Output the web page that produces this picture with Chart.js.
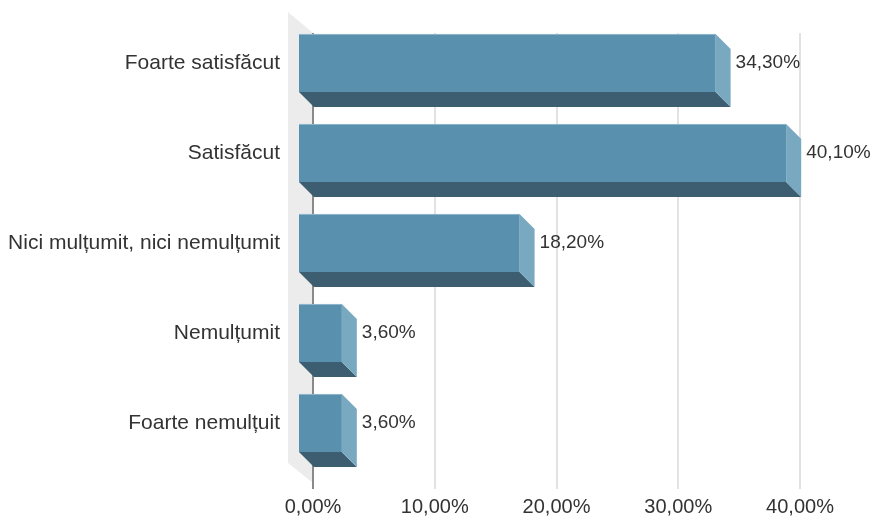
<!DOCTYPE html>
<html lang="ro">
<head>
  <meta charset="UTF-8">
  <title>Satisfacție</title>
  <style>
    body { margin: 0; background: #fff; }
  </style>
</head>
<body>
  <canvas id="myChart" width="873" height="519"></canvas>
  <script src="https://cdn.jsdelivr.net/npm/chart.js@4/dist/chart.umd.min.js"></script>
  <script>
    const categories = ['Foarte satisfăcut', 'Satisfăcut', 'Nici mulțumit, nici nemulțumit', 'Nemulțumit', 'Foarte nemulțuit'];
    const values = [34.3, 40.1, 18.2, 3.6, 3.6];
    const xTicks = [0, 10, 20, 30, 40];

    const DEPTH = 15;
    const fmt = v => v.toFixed(2).replace('.', ',') + '%';

    // draws the grey side wall and the 3d boxes from the bar elements
    const bars3d = {
      id: 'bars3d',
      beforeDatasetsDraw(chart) {
        const ctx = chart.ctx, a = chart.chartArea;
        ctx.save();
        ctx.fillStyle = '#ececec';
        ctx.beginPath();
        ctx.moveTo(a.left - 25, a.top - 21);
        ctx.lineTo(a.left, a.top);
        ctx.lineTo(a.left, a.bottom);
        ctx.lineTo(a.left - 25, a.bottom - 20);
        ctx.closePath();
        ctx.fill();
        // axis line at zero
        ctx.strokeStyle = '#8a8a8a';
        ctx.lineWidth = 2;
        ctx.beginPath();
        ctx.moveTo(a.left, a.top);
        ctx.lineTo(a.left, a.bottom + 6);
        ctx.stroke();
        ctx.restore();
      },
      afterDatasetsDraw(chart) {
        const ctx = chart.ctx;
        const meta = chart.getDatasetMeta(0);
        ctx.save();
        meta.data.forEach((bar, i) => {
          const p = bar.getProps(['x', 'y', 'base', 'height'], true);
          const x0 = p.base, x1 = p.x;
          const yt = p.y - p.height / 2, yb = p.y + p.height / 2;
          const d = DEPTH;
          // bottom face
          ctx.fillStyle = '#3d5e71';
          ctx.beginPath();
          ctx.moveTo(x0 - d, yb - d);
          ctx.lineTo(x1 - d, yb - d);
          ctx.lineTo(x1, yb);
          ctx.lineTo(x0, yb);
          ctx.closePath();
          ctx.fill();
          // side face
          ctx.fillStyle = '#79a8c1';
          ctx.beginPath();
          ctx.moveTo(x1 - d, yt - d);
          ctx.lineTo(x1, yt);
          ctx.lineTo(x1, yb);
          ctx.lineTo(x1 - d, yb - d);
          ctx.closePath();
          ctx.fill();
          // front face
          ctx.fillStyle = '#5890ae';
          ctx.fillRect(x0 - d, yt - d, x1 - x0, yb - yt);
          ctx.fillStyle = '#8db5ca';
          ctx.fillRect(x0 - d, yt - d, x1 - x0, 1);
          // value label
          ctx.fillStyle = '#333';
          ctx.font = '19px "Liberation Sans", Arial, sans-serif';
          ctx.textAlign = 'left';
          ctx.textBaseline = 'middle';
          ctx.fillText(fmt(values[i]), x1 + 5, p.y - d);
        });
        ctx.restore();
      }
    };

    Chart.defaults.font.family = '"Liberation Sans", Arial, sans-serif';
    Chart.defaults.font.size = 20;
    Chart.defaults.color = '#333';

    new Chart(document.getElementById('myChart'), {
      type: 'bar',
      data: {
        labels: categories,
        datasets: [{
          data: values,
          backgroundColor: 'rgba(0,0,0,0)',
          barPercentage: 0.645,
          categoryPercentage: 1
        }]
      },
      options: {
        indexAxis: 'y',
        responsive: false,
        animation: false,
        layout: { padding: { top: 33, right: 73, bottom: 0, left: 0 } },
        plugins: { legend: { display: false }, tooltip: { enabled: false } },
        scales: {
          x: {
            min: 0,
            max: 40,
            afterBuildTicks: s => { s.ticks = xTicks.map(v => ({ value: v })); },
            afterFit: s => { s.height = 36; s.paddingBottom = 0; },
            grid: { color: '#e2e2e2', lineWidth: 2, tickLength: 6, drawTicks: true },
            border: { display: false },
            ticks: { padding: 6, callback: v => fmt(v), color: '#333' }
          },
          y: {
            grid: { display: false, drawTicks: false },
            border: { display: false },
            afterFit: s => { s.width = 313; s.paddingTop = 0; s.paddingBottom = 0; },
            ticks: { padding: 33, labelOffset: -15, color: '#333', font: { size: 21 } }
          }
        }
      },
      plugins: [bars3d]
    });
  </script>
</body>
</html>
